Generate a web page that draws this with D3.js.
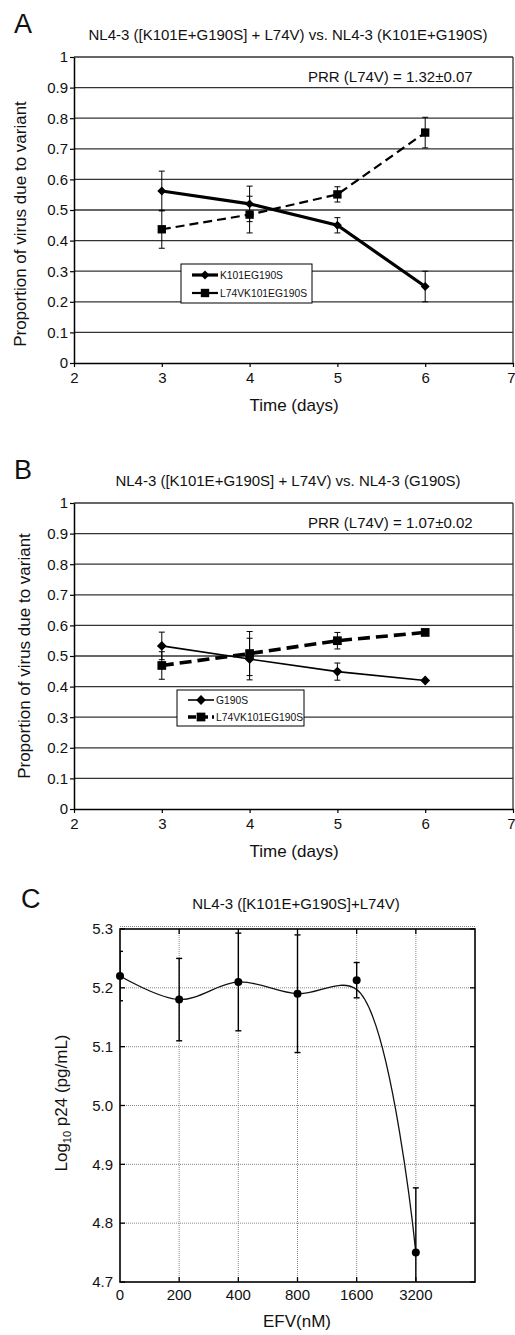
<!DOCTYPE html>
<html>
<head>
<meta charset="utf-8">
<script src="https://cdn.jsdelivr.net/npm/d3@7"></script>
<style>
  html, body { margin: 0; padding: 0; background: #fff; }
  svg { display: block; }
</style>
</head>
<body>
<svg id="fig" width="515" height="1335"></svg>
<script>
// ---- Panel A: [K101E+G190S]+L74V vs K101E+G190S ----
const daysA = [3, 4, 5, 6];
const k101Mean = [0.562, 0.52, 0.45, 0.25];
const k101Err = [0.065, 0.058, 0.025, 0.05];
const l74vAMean = [0.437, 0.485, 0.551, 0.753];
const l74vAErr = [0.062, 0.06, 0.025, 0.05];

// ---- Panel B: [K101E+G190S]+L74V vs G190S ----
const daysB = [3, 4, 5, 6];
const g190Mean = [0.533, 0.49, 0.449, 0.42];
const g190Err = [0.045, 0.068, 0.028, 0];
const l74vBMean = [0.469, 0.508, 0.55, 0.577];
const l74vBErr = [0.045, 0.072, 0.027, 0];

const propTicks = [0, 0.1, 0.2, 0.3, 0.4, 0.5, 0.6, 0.7, 0.8, 0.9, 1];
const dayTicks = [2, 3, 4, 5, 6, 7];

// ---- Panel C: p24 yield across EFV concentrations ----
const efvLabels = ["0", "200", "400", "800", "1600", "3200"];
const p24Mean = [5.22, 5.18, 5.21, 5.19, 5.213, 4.75];
const p24Err = [0.042, 0.07, 0.083, 0.1, 0.03, 0.11];
const p24Fit = [5.22, 5.18, 5.21, 5.19, 5.197, 4.75];
const logTicks = [4.7, 4.8, 4.9, 5.0, 5.1, 5.2, 5.3];

const FONT = '"Liberation Sans", Arial, Helvetica, sans-serif';
const svg = d3.select("#fig").attr("font-family", FONT);

function txt(parent, x, y, s, size, anchor) {
  return parent.append("text")
    .attr("x", x).attr("y", y)
    .attr("font-size", size)
    .attr("text-anchor", anchor || "start")
    .attr("fill", "#111")
    .text(s);
}

function styleAxis(a, size) {
  a.attr("font-family", FONT);
  a.selectAll("text").attr("font-size", size).attr("fill", "#111");
  a.select(".domain").attr("stroke", "#000").attr("stroke-width", 1.5);
  a.selectAll(".tick line").attr("stroke", "#000").attr("stroke-width", 1.2);
}

function timeCourse(p) {
  const g = svg.append("g");
  const x = d3.scaleLinear().domain([2, 7]).range([74, 513]);
  const y = d3.scaleLinear().domain([0, 1]).range([p.bottom, p.top]);

  // horizontal gridlines (the one at 1 closes the frame)
  g.append("g").selectAll("line").data(propTicks.slice(1)).join("line")
    .attr("x1", x(2)).attr("x2", x(7))
    .attr("y1", d => y(d)).attr("y2", d => y(d))
    .attr("stroke", "#333").attr("stroke-width", 1.3);
  g.append("line")
    .attr("x1", x(7)).attr("x2", x(7)).attr("y1", y(0)).attr("y2", y(1))
    .attr("stroke", "#333").attr("stroke-width", 1.3);

  const ax = g.append("g").attr("transform", `translate(0,${y(0)})`)
    .call(d3.axisBottom(x).tickValues(dayTicks).tickFormat(d3.format("d"))
      .tickSize(4).tickPadding(5).tickSizeOuter(0));
  const ay = g.append("g").attr("transform", `translate(${x(2)},0)`)
    .call(d3.axisLeft(y).tickValues(propTicks).tickFormat(d3.format("~g"))
      .tickSize(4).tickPadding(2).tickSizeOuter(0));
  styleAxis(ax, 15);
  styleAxis(ay, 15);
  // keep the last day label inside the page edge
  ax.selectAll(".tick").filter(d => d === 7).select("text").attr("text-anchor", "end").attr("dx", 2);

  // series: error bars, connecting line, markers
  p.series.forEach(s => {
    const pts = p.days.map((d, i) => ({ d, v: s.mean[i], e: s.err[i] }));
    const eb = g.append("g").attr("stroke", "#000").attr("stroke-width", 1);
    const withErr = pts.filter(q => q.e > 0);
    eb.selectAll("line.v").data(withErr).join("line").attr("class", "v")
      .attr("x1", q => x(q.d)).attr("x2", q => x(q.d))
      .attr("y1", q => y(q.v - q.e)).attr("y2", q => y(q.v + q.e));
    eb.selectAll("line.c").data(withErr.flatMap(q => [q.v - q.e, q.v + q.e].map(v => ({ d: q.d, v }))))
      .join("line").attr("class", "c")
      .attr("x1", q => x(q.d) - 3).attr("x2", q => x(q.d) + 3)
      .attr("y1", q => y(q.v)).attr("y2", q => y(q.v));

    g.append("path").datum(pts)
      .attr("d", d3.line().x(q => x(q.d)).y(q => y(q.v)))
      .attr("fill", "none").attr("stroke", "#000")
      .attr("stroke-width", s.width)
      .attr("stroke-dasharray", s.dash || null);

    g.append("g").selectAll("path").data(pts).join("path")
      .attr("transform", q => `translate(${x(q.d)},${y(q.v)})` + (s.marker === "diamond" ? " rotate(45)" : ""))
      .attr("d", d3.symbol(d3.symbolSquare, s.size))
      .attr("fill", "#000");
  });

  // legend
  const L = p.legend;
  const lg = g.append("g");
  lg.append("rect").attr("x", L.x).attr("y", L.y).attr("width", L.w).attr("height", L.h)
    .attr("fill", "#fff").attr("stroke", "#000").attr("stroke-width", 1);
  p.series.forEach((s, i) => {
    const cy = L.y + L.rows[i];
    lg.append("line").attr("x1", L.x + 11).attr("x2", L.x + 37).attr("y1", cy).attr("y2", cy)
      .attr("stroke", "#000").attr("stroke-width", s.width).attr("stroke-dasharray", s.legendDash || null);
    lg.append("path")
      .attr("transform", `translate(${L.x + 24},${cy})` + (s.marker === "diamond" ? " rotate(45)" : ""))
      .attr("d", d3.symbol(d3.symbolSquare, s.size)).attr("fill", "#000");
    txt(lg, L.x + 39, cy + 3.7, s.name, 10.3);
  });

  // texts
  txt(g, 14, p.top - 24, p.letter, 27);
  txt(g, 288, p.top - 17, p.title, 15, "middle");
  txt(g, 308, p.top + 25, p.prr, 15);
  txt(g, 294, p.bottom + 48, "Time (days)", 17, "middle");
  g.append("text")
    .attr("transform", `translate(${p.ylabX},${p.ylabY}) rotate(-90)`)
    .attr("text-anchor", "middle").attr("font-size", 17).attr("fill", "#111")
    .text("Proportion of virus due to variant");
}

timeCourse({
  top: 57, bottom: 363, letter: "A",
  title: "NL4-3 ([K101E+G190S] + L74V) vs. NL4-3 (K101E+G190S)",
  prr: "PRR (L74V) = 1.32\u00B10.07",
  ylabX: 26, ylabY: 224,
  days: daysA,
  series: [
    { name: "K101EG190S", mean: k101Mean, err: k101Err, width: 3.2, marker: "diamond", size: 40 },
    { name: "L74VK101EG190S", mean: l74vAMean, err: l74vAErr, width: 2.2, dash: "9,5", marker: "square", size: 70 }
  ],
  legend: { x: 181, y: 264, w: 131, h: 39, rows: [11, 29] }
});

timeCourse({
  top: 503, bottom: 809, letter: "B",
  title: "NL4-3 ([K101E+G190S] + L74V) vs. NL4-3 (G190S)",
  prr: "PRR (L74V) = 1.07\u00B10.02",
  ylabX: 30, ylabY: 656,
  days: daysB,
  series: [
    { name: "G190S", mean: g190Mean, err: g190Err, width: 1.6, marker: "diamond", size: 48 },
    { name: "L74VK101EG190S", mean: l74vBMean, err: l74vBErr, width: 3.6, dash: "12,6", legendDash: "8,4", marker: "square", size: 76 }
  ],
  legend: { x: 177, y: 690, w: 127, h: 36, rows: [10, 27] }
});

// ---- Panel C ----
(function () {
  const g = svg.append("g");
  const x = d3.scaleLinear().domain([0, efvLabels.length]).range([120, 475]);
  const y = d3.scaleLinear().domain([4.7, 5.3]).range([1282, 929]);
  const [x0, x1] = x.range();
  const [y0, y1] = y.range();
  const inner = d3.range(1, efvLabels.length);

  // dotted grid
  const grid = g.append("g").attr("stroke", "#888").attr("stroke-width", 1).attr("stroke-dasharray", "1,1");
  grid.selectAll("line.h").data(logTicks.slice(1, -1)).join("line").attr("class", "h")
    .attr("x1", x0).attr("x2", x1).attr("y1", d => y(d)).attr("y2", d => y(d));
  grid.selectAll("line.v").data(inner).join("line").attr("class", "v")
    .attr("x1", d => x(d)).attr("x2", d => x(d)).attr("y1", y0).attr("y2", y1);
  grid.append("line").attr("x1", x0).attr("x2", x1).attr("y1", y1 - 2.5).attr("y2", y1 - 2.5);

  // inward ticks on all four sides
  const tk = g.append("g").attr("stroke", "#000").attr("stroke-width", 1.3);
  tk.selectAll("line.l").data(logTicks).join("line").attr("class", "l")
    .attr("x1", x0).attr("x2", x0 + 5).attr("y1", d => y(d)).attr("y2", d => y(d));
  tk.selectAll("line.r").data(logTicks).join("line").attr("class", "r")
    .attr("x1", x1 - 5).attr("x2", x1).attr("y1", d => y(d)).attr("y2", d => y(d));
  tk.selectAll("line.b").data(inner).join("line").attr("class", "b")
    .attr("x1", d => x(d)).attr("x2", d => x(d)).attr("y1", y0).attr("y2", y0 - 5);
  tk.selectAll("line.t").data(inner).join("line").attr("class", "t")
    .attr("x1", d => x(d)).attr("x2", d => x(d)).attr("y1", y1).attr("y2", y1 + 5);

  g.append("rect").attr("x", x0).attr("y", y1).attr("width", x1 - x0).attr("height", y0 - y1)
    .attr("fill", "none").attr("stroke", "#000").attr("stroke-width", 1.6);

  // tick labels
  g.append("g").selectAll("text").data(logTicks).join("text")
    .attr("x", x0 - 7).attr("y", d => y(d) + 5.3)
    .attr("text-anchor", "end").attr("font-size", 15).attr("fill", "#111")
    .text(d3.format(".1f"));
  g.append("g").selectAll("text").data(efvLabels).join("text")
    .attr("x", (d, i) => x(i)).attr("y", y0 + 18)
    .attr("text-anchor", "middle").attr("font-size", 15).attr("fill", "#111")
    .text(d => d);

  svg.append("defs").append("clipPath").attr("id", "clipC")
    .append("rect").attr("x", x0).attr("y", y1).attr("width", x1 - x0).attr("height", y0 - y1);
  const plot = g.append("g").attr("clip-path", "url(#clipC)");

  // smoothed curve
  plot.append("path").datum(p24Fit)
    .attr("d", d3.line().x((d, i) => x(i)).y(d => y(d)).curve(d3.curveCatmullRom.alpha(0.5)))
    .attr("fill", "none").attr("stroke", "#111").attr("stroke-width", 1.3);

  // error bars
  const pts = p24Mean.map((v, i) => ({ i, v, e: p24Err[i] }));
  const eb = plot.append("g").attr("stroke", "#000").attr("stroke-width", 1.4);
  eb.selectAll("line.v").data(pts).join("line").attr("class", "v")
    .attr("x1", d => x(d.i)).attr("x2", d => x(d.i))
    .attr("y1", d => y(d.v - d.e)).attr("y2", d => y(d.v + d.e));
  eb.selectAll("line.c").data(pts.flatMap(d => [d.v - d.e, d.v + d.e].map(v => ({ i: d.i, v }))))
    .join("line").attr("class", "c")
    .attr("x1", d => x(d.i) - 3).attr("x2", d => x(d.i) + 3)
    .attr("y1", d => y(d.v)).attr("y2", d => y(d.v));

  g.append("g").selectAll("circle").data(pts).join("circle")
    .attr("cx", d => x(d.i)).attr("cy", d => y(d.v)).attr("r", 4).attr("fill", "#000");

  // texts
  txt(g, 21, 908, "C", 27);
  txt(g, 296, 909, "NL4-3 ([K101E+G190S]+L74V)", 15, "middle");
  txt(g, 297, 1327, "EFV(nM)", 17, "middle");
  const yl = g.append("text")
    .attr("transform", `translate(67,1103) rotate(-90)`)
    .attr("text-anchor", "middle").attr("font-size", 17).attr("fill", "#111");
  yl.append("tspan").text("Log");
  yl.append("tspan").attr("font-size", 11).attr("dy", 4).text("10");
  yl.append("tspan").attr("dy", -4).text(" p24 (pg/mL)");
})();
</script>
</body>
</html>
